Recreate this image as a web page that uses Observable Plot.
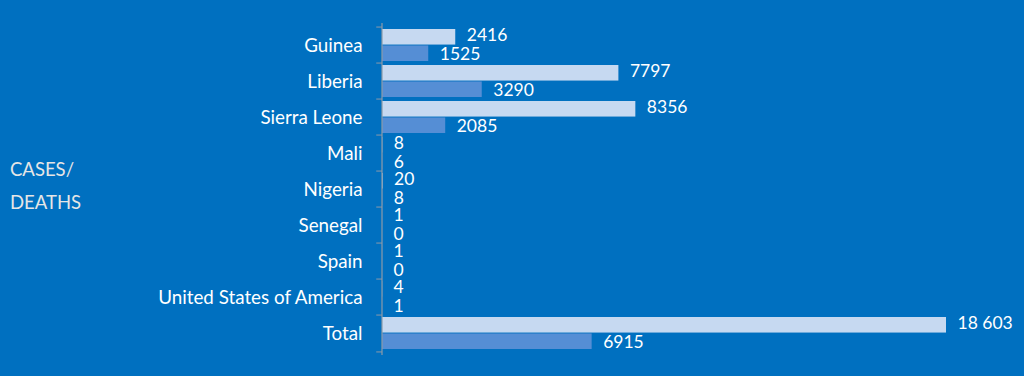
<!DOCTYPE html>
<html>
<head>
<meta charset="utf-8">
<script src="https://cdn.jsdelivr.net/npm/d3@7"></script>
<script src="https://cdn.jsdelivr.net/npm/@observablehq/plot@0.6"></script>
<style>
  html, body { margin: 0; padding: 0; background: #0070C0; overflow: hidden; }
  #wrap { position: relative; width: 1024px; height: 376px; }
  #side { position: absolute; left: 10px; top: 153px; color: #e6e6e6; font-family: Lato, "Open Sans", sans-serif; font-size: 18.5px; line-height: 33px; }
</style>
</head>
<body>
<div id="wrap">
  <div id="chart"></div>
  <div id="side">CASES/<br>DEATHS</div>
</div>
<script>
const countries = ["Guinea", "Liberia", "Sierra Leone", "Mali", "Nigeria", "Senegal", "Spain", "United States of America", "Total"];
const cases  = [2416, 7797, 8356, 8, 20, 1, 1, 4, 18603];
const deaths = [1525, 3290, 2085, 6, 8, 0, 0, 1, 6915];
const caseLabels  = ["2416", "7797", "8356", "8", "20", "1", "1", "4", "18 603"];
const deathLabels = ["1525", "3290", "2085", "6", "8", "0", "0", "1", "6915"];

const rows = countries.map((c, i) => ({country: c, cases: cases[i], deaths: deaths[i], cl: caseLabels[i], dl: deathLabels[i]}));
const H = 376, mTop = 23, mBottom = 21;
const band = (H - mTop - mBottom) / countries.length;
const half = band / 2;

const chart = Plot.plot({
  width: 1024,
  height: H,
  marginLeft: 382,
  marginRight: 78,
  marginTop: mTop,
  marginBottom: mBottom,
  style: {background: "#0070C0", color: "white", fontFamily: "Lato, 'Open Sans', sans-serif", overflow: "visible"},
  x: {domain: [0, 18603], axis: null},
  y: {domain: countries, padding: 0, label: null},
  marks: [
    Plot.barX(rows, {y: "country", x: "cases", fill: "#C6D9F1", insetTop: 2, insetBottom: half}),
    Plot.barX(rows, {y: "country", x: "deaths", fill: "#558ED5", insetTop: half, insetBottom: 2}),
    Plot.ruleX([0], {stroke: "#8c9aa8", strokeWidth: 1.2, dx: -0.5}),
    Plot.ruleY(countries, {y: d => d, x1: -190, x2: 0, stroke: "#8c9aa8", dy: -half}),
    Plot.ruleY(countries.slice(-1), {y: d => d, x1: -190, x2: 0, stroke: "#8c9aa8", dy: half}),
    Plot.text(rows, {y: "country", x: "cases", text: "cl", dx: 11, dy: -half / 2 - 0.5, textAnchor: "start", fill: "white", fontSize: 17.5}),
    Plot.text(rows, {y: "country", x: "deaths", text: "dl", dx: 11, dy: half / 2 - 0.5, textAnchor: "start", fill: "white", fontSize: 17.5}),
    Plot.axisY({tickSize: 0, tickPadding: 20, fontSize: 18.8, fill: "white", label: null})
  ]
});
document.getElementById("chart").appendChild(chart);
</script>
</body>
</html>
